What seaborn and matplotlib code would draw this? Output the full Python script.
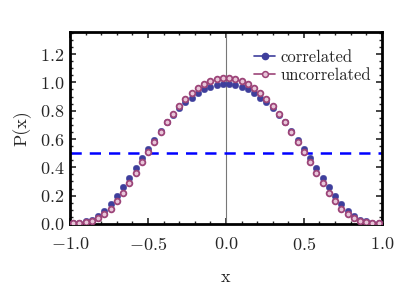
import numpy as np
import pandas as pd
import matplotlib
matplotlib.use("Agg")
import matplotlib.pyplot as plt
import seaborn as sns
from matplotlib.lines import Line2D
from matplotlib.ticker import MultipleLocator

# x positions of the samples
x_left = [-0.98, -0.94, -0.90, -0.86, -0.82, -0.78, -0.74, -0.70, -0.66, -0.62,
          -0.58, -0.54, -0.50, -0.46, -0.42, -0.38, -0.34, -0.30, -0.26, -0.22,
          -0.18, -0.14, -0.10, -0.06, -0.02]
corr_left = [0.008, 0.010, 0.018, 0.030, 0.057, 0.092, 0.142, 0.200, 0.260, 0.327,
             0.393, 0.466, 0.528, 0.594, 0.656, 0.717, 0.771, 0.819, 0.860, 0.893,
             0.922, 0.950, 0.970, 0.983, 0.988]
uncorr_left = [0.005, 0.006, 0.013, 0.023, 0.040, 0.069, 0.109, 0.161, 0.218, 0.289,
               0.360, 0.435, 0.510, 0.582, 0.653, 0.717, 0.776, 0.831, 0.880, 0.925,
               0.961, 0.988, 1.010, 1.025, 1.032]

x_vals = x_left + [-v for v in x_left[::-1]]
correlated = corr_left + corr_left[::-1]
uncorrelated = uncorr_left + uncorr_left[::-1]

threshold = 0.5
labels = ["correlated", "uncorrelated"]

df = pd.DataFrame({"x": x_vals, "correlated": correlated, "uncorrelated": uncorrelated})

sns.set_style("ticks")
plt.rcParams["font.family"] = ["cmr10", "DejaVu Serif"]
plt.rcParams["mathtext.fontset"] = "cm"
plt.rcParams["axes.formatter.use_mathtext"] = True

blue = "#3e3e9c"
pink = "#9c4478"
pink_fill = "#e8c6d9"

fig = plt.figure(figsize=(4.15, 2.92), dpi=100)
ax = fig.add_axes([0.169, 0.233, 0.751, 0.657])

ax.axvline(0, color="#777777", lw=0.8, zorder=1)
ax.axhline(threshold, color="#0000ff", lw=1.8, ls=(0, (4.5, 3.2)), zorder=2)

sns.scatterplot(data=df, x="x", y="correlated", ax=ax, color=blue, s=22,
                edgecolor=blue, linewidth=0.3, zorder=3)
sns.scatterplot(data=df, x="x", y="uncorrelated", ax=ax, color=pink_fill, s=17,
                edgecolor=pink, linewidth=1.3, zorder=4)

ax.set_xlim(-1.0, 1.0)
ax.set_ylim(0.0, 1.355)
ax.xaxis.set_major_locator(MultipleLocator(0.5))
ax.xaxis.set_minor_locator(MultipleLocator(0.1))
ax.yaxis.set_major_locator(MultipleLocator(0.2))
ax.yaxis.set_minor_locator(MultipleLocator(0.05))
ax.xaxis.set_major_formatter(matplotlib.ticker.FuncFormatter(lambda v, p: f"${v:.1f}$"))
ax.yaxis.set_major_formatter(matplotlib.ticker.FuncFormatter(lambda v, p: f"${v:.1f}$"))

ax.tick_params(which="both", direction="in", top=True, right=True, labelsize=13)
ax.tick_params(axis="x", which="major", pad=9)
ax.tick_params(axis="y", which="major", pad=4)
ax.tick_params(which="major", length=4, width=1.2)
ax.tick_params(which="minor", length=2, width=1.0)
for s in ax.spines.values():
    s.set_linewidth(2.0)
    s.set_color("black")

ax.set_xlabel("x", fontsize=13, labelpad=12)
ax.set_ylabel("P(x)", fontsize=13, labelpad=6)

handles = [
    Line2D([0], [0], color=blue, lw=1.2, marker="o", markersize=4.5, markerfacecolor=blue),
    Line2D([0], [0], color=pink, lw=1.2, marker="o", markersize=4.2,
           markerfacecolor=pink_fill, markeredgecolor=pink, markeredgewidth=1.1),
]
ax.legend(handles, labels, loc="upper right", frameon=False, fontsize=12,
          handlelength=1.3, handletextpad=0.3, labelspacing=0.15,
          bbox_to_anchor=(1.0, 0.965), borderaxespad=0.25)

fig.savefig("out.png", dpi=100)
